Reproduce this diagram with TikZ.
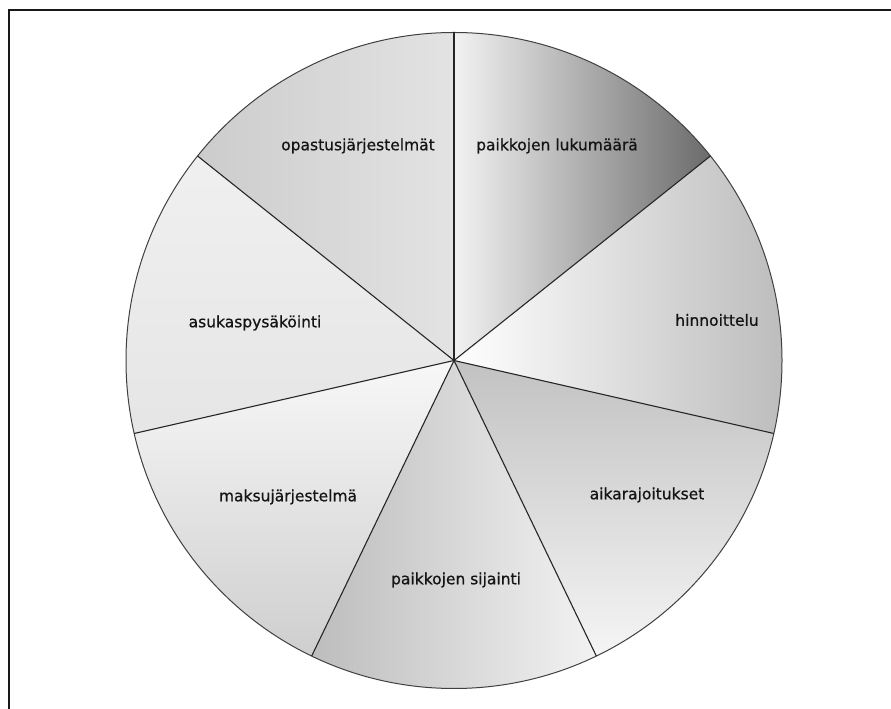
\documentclass[tikz,border=0pt]{standalone}
\usepackage{fontspec}
\setmainfont{DejaVu Sans}
\newfontfamily\lblfont{DejaVu Sans}[FakeBold=0.7]
\usetikzlibrary{calc}
\begin{document}
\begin{tikzpicture}[x=1pt,y=1pt,
  spoke/.style={draw=black!85,line width=1.1pt},
  rim/.style={draw=black!75,line width=1pt},
  lbl/.style={font=\lblfont\fontsize{15.5}{18}\selectfont,text=black!92,inner sep=1pt},
  frameline/.style={draw=black!90,line width=2pt}]
\useasboundingbox (0,0) rectangle (891,709);
\clip (0,0) rectangle (891,709);
\fill[white] (0,0) rectangle (891,709);
\def\R{328}
\coordinate (c) at (454,348.5);
% sector fills
\shade[left color=black!5,right color=black!58]
  (c) -- ++(90:\R) arc (90:38.571:\R) -- cycle;
\shade[left color=white,right color=black!27]
  (c) -- ++(38.571:\R) arc (38.571:-12.857:\R) -- cycle;
\shade[shading angle=135,top color=black!24,bottom color=black!4]
  (c) -- ++(-12.857:\R) arc (-12.857:-64.286:\R) -- cycle;
\shade[left color=black!26,right color=black!5]
  (c) -- ++(-64.286:\R) arc (-64.286:-115.714:\R) -- cycle;
\shade[shading angle=45,top color=black!3,bottom color=black!19]
  (c) -- ++(-115.714:\R) arc (-115.714:-167.143:\R) -- cycle;
\shade[shading angle=45,top color=black!6,bottom color=black!10]
  (c) -- ++(-167.143:\R) arc (-167.143:-218.571:\R) -- cycle;
\shade[left color=black!20,right color=black!11]
  (c) -- ++(141.429:\R) arc (141.429:90:\R) -- cycle;
% rim points
\foreach \k in {0,...,6}{
  \coordinate (p\k) at ($(c)+({90-\k*360/7}:\R)$);
}
\draw[rim] (c) circle (\R);
\foreach \k in {0,...,6}{ \draw[spoke] (c) -- (p\k); }
% labels
\node[lbl] (l1) at (557,563) {paikkojen lukumäärä};
\node[lbl] (l2) at (717,389) {hinnoittelu};
\node[lbl] (l3) at (647,214) {aikarajoitukset};
\node[lbl] (l4) at (456,129) {paikkojen sijainti};
\node[lbl] (l5) at (288,212) {maksujärjestelmä};
\node[lbl] (l6) at (255,386) {asukaspysäköinti};
\node[lbl] (l7) at (358,563) {opastusjärjestelmät};
% frame (right and bottom edges lie outside the picture)
\coordinate (f1) at (9,-10);
\coordinate (f2) at (9,699);
\coordinate (f3) at (905,699);
\draw[frameline] (f1) -- (f2) -- (f3);
\end{tikzpicture}
\end{document}
